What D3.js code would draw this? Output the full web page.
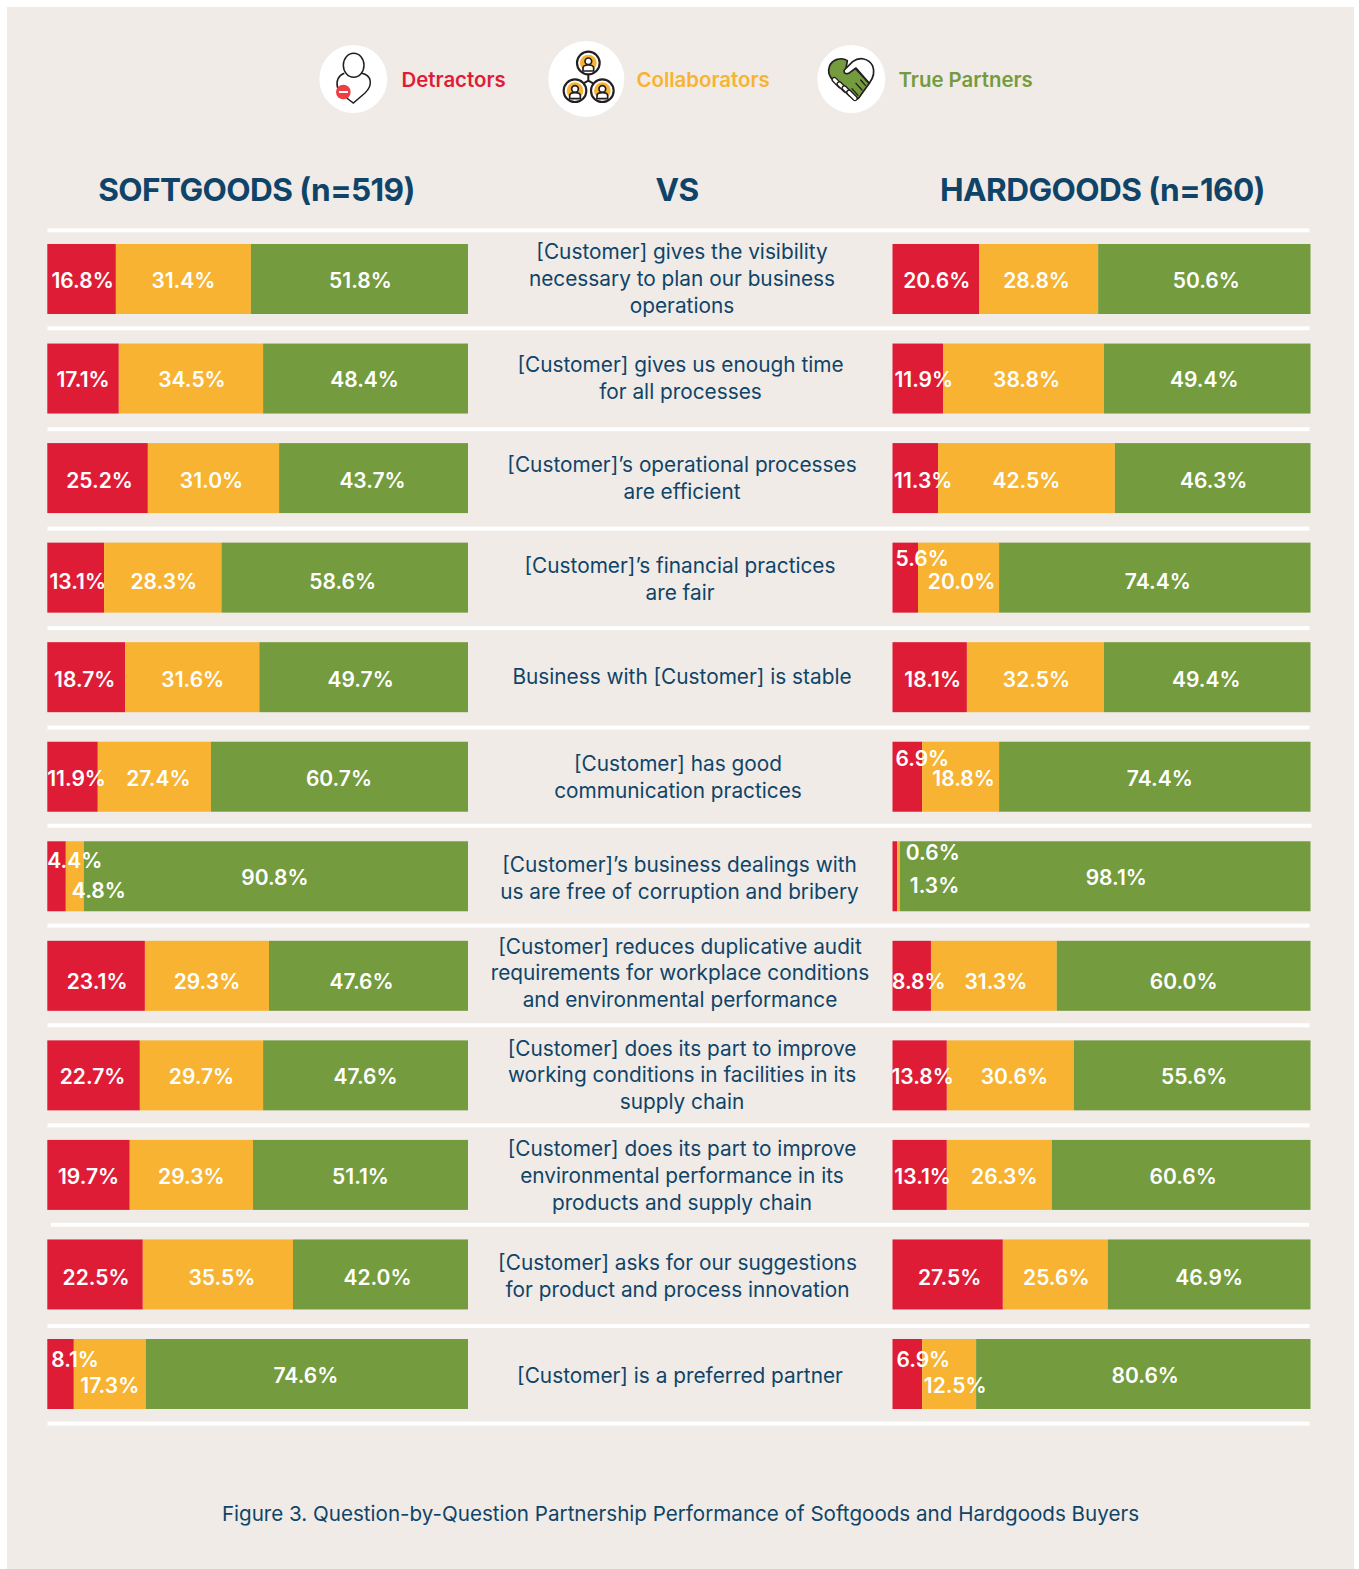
<!DOCTYPE html>
<html>
<head>
<meta charset="utf-8">
<script src="https://cdn.jsdelivr.net/npm/d3@7"></script>
<style>
  html, body { margin: 0; padding: 0; background: #fff; }
  svg { display: block; }
  text { font-family: Inter, Roboto, sans-serif; }
</style>
</head>
<body>
<div id="chart"></div>
<script>
// question text, top row first
const questions = [
    ["[Customer] gives the visibility", "necessary to plan our business", "operations"],
    ["[Customer] gives us enough time", "for all processes"],
    ["[Customer]’s operational processes", "are efficient"],
    ["[Customer]’s financial practices", "are fair"],
    ["Business with [Customer] is stable"],
    ["[Customer] has good", "communication practices"],
    ["[Customer]’s business dealings with", "us are free of corruption and bribery"],
    ["[Customer] reduces duplicative audit", "requirements for workplace conditions", "and environmental performance"],
    ["[Customer] does its part to improve", "working conditions in facilities in its", "supply chain"],
    ["[Customer] does its part to improve", "environmental performance in its", "products and supply chain"],
    ["[Customer] asks for our suggestions", "for product and process innovation"],
    ["[Customer] is a preferred partner"]
];
// printed percentages
const softDetractors = [16.8, 17.1, 25.2, 13.1, 18.7, 11.9, 4.4, 23.1, 22.7, 19.7, 22.5, 8.1];
const softCollaborators = [31.4, 34.5, 31.0, 28.3, 31.6, 27.4, 4.8, 29.3, 29.7, 29.3, 35.5, 17.3];
const softPartners = [51.8, 48.4, 43.7, 58.6, 49.7, 60.7, 90.8, 47.6, 47.6, 51.1, 42.0, 74.6];
const hardDetractors = [20.6, 11.9, 11.3, 5.6, 18.1, 6.9, 0.6, 8.8, 13.8, 13.1, 27.5, 6.9];
const hardCollaborators = [28.8, 38.8, 42.5, 20.0, 32.5, 18.8, 1.3, 31.3, 30.6, 26.3, 25.6, 12.5];
const hardPartners = [50.6, 49.4, 46.3, 74.4, 49.4, 74.4, 98.1, 60.0, 55.6, 60.6, 46.9, 80.6];
// the drawn bars don't quite follow the printed numbers, so lengths are read separately
const softDetractorLen = [16.3, 17.0, 23.9, 13.5, 18.5, 12.0, 4.4, 23.2, 22.0, 19.6, 22.7, 6.3];
const softCollaboratorLen = [32.1, 34.3, 31.2, 27.9, 31.9, 26.9, 4.3, 29.5, 29.3, 29.3, 35.7, 17.1];
const softPartnerLen = [51.6, 48.7, 44.9, 58.6, 49.6, 61.1, 91.3, 47.3, 48.7, 51.1, 41.6, 76.6];
const hardDetractorLen = [20.7, 12.1, 10.9, 6.1, 17.8, 7.1, 1.1, 9.2, 13.0, 13.0, 26.4, 7.1];
const hardCollaboratorLen = [28.5, 38.5, 42.3, 19.4, 32.8, 18.4, 0.7, 30.1, 30.4, 25.1, 25.1, 12.9];
const hardPartnerLen = [50.8, 49.4, 46.8, 74.5, 49.4, 74.5, 98.2, 60.7, 56.6, 61.9, 48.5, 80.0];
const seriesNames = ["Detractors", "Collaborators", "True Partners"];

const width = 1359, height = 1569;
const red = "#df1c36", orange = "#f7b331", green = "#749b3d", navy = "#0f4468", panel = "#f0ebe7", ink = "#231f20";
const colors = [red, orange, green];

const svg = d3.select("#chart").append("svg")
    .attr("width", width)
    .attr("height", height);

svg.append("rect").attr("x", 7).attr("y", 7).attr("width", 1347).attr("height", 1562).attr("fill", panel);

const rowIndex = d3.range(questions.length);
const y = d3.scaleLinear().domain([0, 11]).range([244, 1339]);
const barH = 70;
const xSoft = d3.scaleLinear().domain([0, 100]).range([47.3, 468]);
const xHard = d3.scaleLinear().domain([0, 100]).range([892.5, 1310.5]);

// white rules between the rows, they sit a little unevenly in the original
const ruleY = d3.scaleLinear().domain([0, 12]).range([228.3, 1421.7]);
const ruleDy = [0, -1.5, 0, 0, 0, 0, -1.2, -0.8, -0.6, 0, 0, 1.7, 0];
svg.append("g").selectAll("rect")
    .data(d3.range(questions.length + 1))
    .join("rect")
    .attr("x", d => d === 10 ? 51 : 47.5)
    .attr("width", d => d === 10 ? 1258 : (d === 6 ? 1264 : 1262))
    .attr("y", d => ruleY(d) + ruleDy[d])
    .attr("height", 4)
    .attr("fill", "#fff");

// label offsets from the segment centre, small segments get pushed aside
const labelDx = {
    soft: [[1, 0, 1], [0, 1, -1], [2, -2, -1], [2, 1, -2], [-1.5, 0.5, -3], [4, 4, -0.5],
        [18.3, 24, -1], [1, 0, -7], [-1, 0, 0], [0, 0, 0], [1, 4, -3], [14.5, 0, -1]],
    hard: [[1, -2, 2], [6, 3, -3], [8, 0, 1], [17, 3, 3], [3, 1, -1], [15, 3, 5],
        [38, 36, 11], [7, 2, 0], [3, 4, 2], [3, 5, 2], [2, 1, 0], [16, 6, 2]]
};
const nudgeY = {
    "soft-6": [-17, 13], "soft-11": [-16, 10],
    "hard-3": [-23, 0], "hard-5": [-20, 0], "hard-6": [-25, 8], "hard-11": [-16, 10]
};
const labelDy = [0, -1, 1, 2, 1, 0, 0, 4, 0, 0, 1, 0];

function drawBars(name, x, lens, printed) {
    const rows = rowIndex.map(i => {
        let acc = 0;
        return lens.map((s, k) => {
            const seg = {row: i, k: k, v: printed[k][i], x0: acc, x1: acc + s[i]};
            acc += s[i];
            return seg;
        });
    }).flat();

    const g = svg.append("g").attr("class", name);
    g.selectAll("rect")
        .data(rows)
        .join("rect")
        .attr("x", d => x(d.x0))
        .attr("y", d => y(d.row))
        .attr("width", d => x(d.x1) - x(d.x0))
        .attr("height", barH)
        .attr("fill", d => colors[d.k]);

    const pushY = d => {
        const n = nudgeY[name + "-" + d.row];
        return n && d.k < 2 ? n[d.k] : 0;
    };
    g.selectAll("text")
        .data(rows)
        .join("text")
        .attr("x", d => (x(d.x0) + x(d.x1)) / 2 + labelDx[name][d.row][d.k])
        .attr("y", d => y(d.row) + barH / 2 + 1.5 + labelDy[d.row] + pushY(d))
        .attr("dy", "0.36em")
        .attr("text-anchor", "middle")
        .attr("fill", "#fff")
        .attr("font-size", 21)
        .attr("font-weight", 600)
        .text(d => d.v.toFixed(1) + "%");
}

drawBars("soft", xSoft, [softDetractorLen, softCollaboratorLen, softPartnerLen], [softDetractors, softCollaborators, softPartners]);
drawBars("hard", xHard, [hardDetractorLen, hardCollaboratorLen, hardPartnerLen], [hardDetractors, hardCollaborators, hardPartners]);

// column headers
const headers = [["SOFTGOODS (n=519)", 256.5], ["VS", 677], ["HARDGOODS (n=160)", 1102.5]];
svg.append("g").selectAll("text")
    .data(headers)
    .join("text")
    .attr("x", d => d[1])
    .attr("y", 201)
    .attr("text-anchor", "middle")
    .attr("fill", navy)
    .attr("font-size", 31.6)
    .attr("font-weight", 700)
    .attr("letter-spacing", -0.6)
    .text(d => d[0]);

// question text in the middle column
const textX = [682, 680.5, 682, 680, 682, 678, 679.5, 680, 682, 682, 677.5, 680];
const textDy = [0, 0, 0.5, 2, 0, 0.5, 2, -2.5, 0, 1, 2, 1.5];
const q = svg.append("g").selectAll("text")
    .data(rowIndex)
    .join("text")
    .attr("text-anchor", "middle")
    .attr("fill", navy)
    .attr("font-size", 20.8)
    .attr("y", i => y(i) + barH / 2 + 7 + textDy[i]);
q.selectAll("tspan")
    .data(i => questions[i].map((line, n) => ({line, n, count: questions[i].length, i})))
    .join("tspan")
    .attr("x", d => textX[d.i])
    .attr("dy", d => d.n === 0 ? -(d.count - 1) * 13.4 : 26.8)
    .text(d => d.line);

// legend
const legend = svg.append("g");
const legendItems = [
    {cx: 353.3, r: 34, tx: 401.5, c: red},
    {cx: 586.3, r: 38, tx: 636.5, c: orange},
    {cx: 851.3, r: 34, tx: 898.5, c: green}
];
legend.selectAll("circle.bg")
    .data(legendItems)
    .join("circle")
    .attr("class", "bg")
    .attr("cx", d => d.cx)
    .attr("cy", 79)
    .attr("r", d => d.r)
    .attr("fill", "#fff");
legend.selectAll("text")
    .data(legendItems)
    .join("text")
    .attr("x", d => d.tx)
    .attr("y", 87)
    .attr("fill", d => d.c)
    .attr("font-size", 20.4)
    .attr("font-weight", 600)
    .text((d, i) => seriesNames[i]);

// detractor icon
const det = legend.append("g").attr("transform", "translate(315,38) scale(0.3333)");
det.append("ellipse").attr("cx", 116).attr("cy", 82).attr("rx", 31).attr("ry", 36)
    .attr("fill", "none").attr("stroke", ink).attr("stroke-width", 4.5);
det.append("path").attr("d", "M88 106 C70 112 62 130 68 150 M95 180 L115 195 L150 165 C175 140 170 112 140 106")
    .attr("fill", "none").attr("stroke", ink).attr("stroke-width", 4.5);
det.append("circle").attr("cx", 85).attr("cy", 162).attr("r", 22).attr("fill", "#ee3e42");
det.append("rect").attr("x", 72).attr("y", 159).attr("width", 27).attr("height", 6).attr("fill", "#fff");

// collaborators icon: three people joined in the middle
const col = legend.append("g").attr("transform", "translate(545,38) scale(0.3333)");
col.append("path").attr("d", "M130 105 V128 M130 128 L105 142 M130 128 L155 142")
    .attr("fill", "none").attr("stroke", ink).attr("stroke-width", 6);
function person(cx, cy) {
    const p = col.append("g");
    p.append("circle").attr("cx", cx).attr("cy", cy).attr("r", 34).attr("fill", "#fff").attr("stroke", ink).attr("stroke-width", 6.5);
    p.append("circle").attr("cx", cx).attr("cy", cy).attr("r", 25).attr("fill", orange);
    p.append("circle").attr("cx", cx).attr("cy", cy - 5).attr("r", 10).attr("fill", "#fff").attr("stroke", ink).attr("stroke-width", 5);
    p.append("path").attr("d", `M${cx - 16} ${cy + 24} V${cy + 15} Q${cx - 16} ${cy + 6} ${cx} ${cy + 6} Q${cx + 16} ${cy + 6} ${cx + 16} ${cy + 15} V${cy + 24} Z`)
        .attr("fill", "#fff").attr("stroke", ink).attr("stroke-width", 5);
}
person(130, 75);
person(90, 158);
person(172, 158);

// handshake heart
const hs = legend.append("g").attr("transform", "translate(812,40) scale(0.3333)")
    .attr("stroke", ink).attr("stroke-width", 5).attr("stroke-linejoin", "round").attr("stroke-linecap", "round");
hs.append("path").attr("d", "M106 62 C88 50 60 58 52 80 C46 96 52 110 65 122 L122 176 C132 182 140 176 146 166 L172 130 L130 85 L100 98 Z")
    .attr("fill", green);
hs.append("path").attr("d", "M97 90 L122 65 C142 50 170 54 182 78 C190 98 182 116 172 130 L132 84 L110 100 C100 104 94 98 97 90 Z")
    .attr("fill", "#fff");
hs.append("path").attr("d", "M150 150 L132 130 M138 166 L120 146 M160 136 L146 120")
    .attr("fill", "none").attr("stroke-width", 4);
[[76, 128], [91, 141], [106, 153], [120, 166]].forEach(([fx, fy]) => {
    hs.append("line").attr("x1", fx - 9).attr("y1", fy - 9).attr("x2", fx + 9).attr("y2", fy + 9)
        .attr("stroke-width", 17);
    hs.append("line").attr("x1", fx - 9).attr("y1", fy - 9).attr("x2", fx + 9).attr("y2", fy + 9)
        .attr("stroke", "#fff").attr("stroke-width", 9);
});

// caption
svg.append("text")
    .attr("x", 680.5)
    .attr("y", 1521)
    .attr("text-anchor", "middle")
    .attr("fill", navy)
    .attr("font-size", 20.6)
    .text("Figure 3. Question-by-Question Partnership Performance of Softgoods and Hardgoods Buyers");
</script>
</body>
</html>
